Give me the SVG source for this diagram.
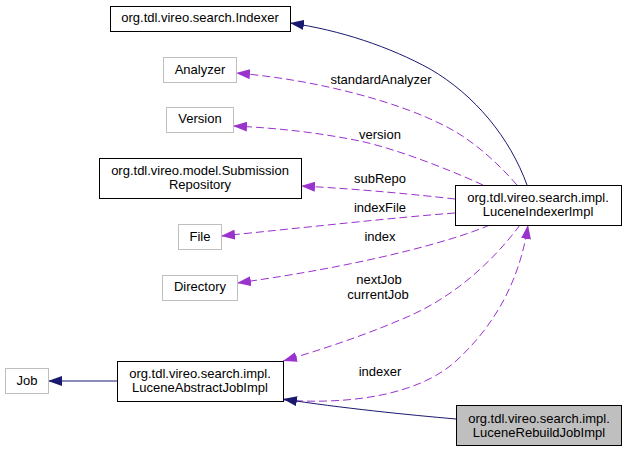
<svg xmlns="http://www.w3.org/2000/svg" width="627" height="451" viewBox="0 0 627 451">
<style>
text{font-family:"Liberation Sans",Arial,Helvetica,sans-serif;font-size:13px;fill:#000;text-anchor:middle}
.n{fill:#fff;stroke:#000;stroke-width:1}
.g{fill:#fff;stroke:#bfbfbf;stroke-width:1}
.cur{fill:#bfbfbf;stroke:#000;stroke-width:1}
.inh{fill:none;stroke:#191970;stroke-width:1}
.use{fill:none;stroke:#9a32cd;stroke-width:1;stroke-dasharray:8,4}
</style>
<defs>
<marker id="an" viewBox="0 0 14 10" refX="14" refY="5" markerWidth="14" markerHeight="10" markerUnits="userSpaceOnUse" orient="auto"><path d="M0,0 L14,5 L0,10 z" fill="#191970"/></marker>
<marker id="ap" viewBox="0 0 14 10" refX="14" refY="5" markerWidth="14" markerHeight="10" markerUnits="userSpaceOnUse" orient="auto"><path d="M0,0 L14,5 L0,10 z" fill="#9a32cd"/></marker>
</defs>
<g id="connectors">
<path class="inh" marker-end="url(#an)" d="M527,185 C510,138 475,95 430,69 C390,47 340,30 290,23"/>
<path class="use" marker-end="url(#ap)" d="M517,185 C495,160 470,138 443,125 C400,103 320,80 236,73"/>
<path class="use" marker-end="url(#ap)" d="M483,185 C450,170 400,150 360,141 C320,133 280,128 233,126"/>
<path class="use" marker-end="url(#ap)" d="M455,199 C420,195 360,189 301,186"/>
<path class="use" marker-end="url(#ap)" d="M455,213 C400,217 300,228 221,236"/>
<path class="use" marker-end="url(#ap)" d="M490,225 C450,242 360,266 237,283"/>
<path class="use" marker-end="url(#ap)" d="M520,225 C490,265 450,300 400,320 C360,337 320,350 283,361"/>
<path class="use" marker-end="url(#ap)" d="M283,400 C350,405 420,395 457,360 C495,325 520,280 528,225"/>
<path class="inh" marker-end="url(#an)" d="M456,419 C410,415 340,408 283,399"/>
<path class="inh" marker-end="url(#an)" d="M117,381 L48,381"/>
<text x="381" y="84">standardAnalyzer</text>
<text x="380" y="139">version</text>
<text x="380" y="183">subRepo</text>
<text x="380" y="212">indexFile</text>
<text x="380" y="241">index</text>
<text x="379" y="284">nextJob</text>
<text x="378" y="299">currentJob</text>
<text x="380" y="376">indexer</text>
</g>
<g id="indexer"><rect class="n" x="110.5" y="6.5" width="180" height="25"/><text x="200" y="22">org.tdl.vireo.search.Indexer</text></g>
<g id="analyzer"><rect class="g" x="163.5" y="57.5" width="73" height="25"/><text x="200" y="74">Analyzer</text></g>
<g id="version"><rect class="g" x="166.5" y="107.5" width="67" height="25"/><text x="200" y="123">Version</text></g>
<g id="submissionRepository"><rect class="n" x="99.5" y="158.5" width="202" height="40"/><text x="200" y="175">org.tdl.vireo.model.Submission</text><text x="200" y="189">Repository</text></g>
<g id="file"><rect class="g" x="178.5" y="224.5" width="43" height="25"/><text x="200" y="241">File</text></g>
<g id="directory"><rect class="g" x="162.5" y="275.5" width="75" height="25"/><text x="200" y="291">Directory</text></g>
<g id="job"><rect class="g" x="5.5" y="368.5" width="43" height="25"/><text x="27" y="385">Job</text></g>
<g id="luceneAbstractJobImpl"><rect class="n" x="117.5" y="361.5" width="166" height="40"/><text x="200" y="378">org.tdl.vireo.search.impl.</text><text x="200" y="392">LuceneAbstractJobImpl</text></g>
<g id="luceneIndexerImpl"><rect class="n" x="455.5" y="185.5" width="166" height="40"/><text x="538" y="202">org.tdl.vireo.search.impl.</text><text x="538" y="216">LuceneIndexerImpl</text></g>
<g id="luceneRebuildJobImpl"><rect class="cur" x="456.5" y="405.5" width="165" height="40"/><text x="539" y="423">org.tdl.vireo.search.impl.</text><text x="539" y="437">LuceneRebuildJobImpl</text></g>
</svg>
